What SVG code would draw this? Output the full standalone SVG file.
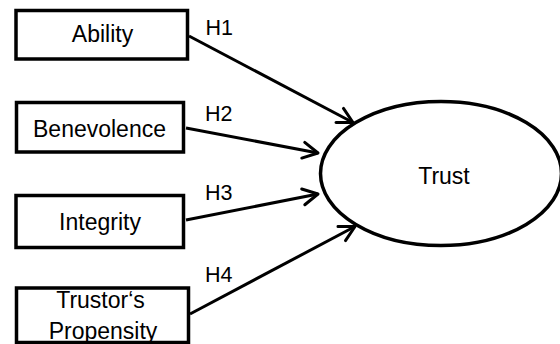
<svg xmlns="http://www.w3.org/2000/svg" width="560" height="344" viewBox="0 0 560 344">
<style>
.box{fill:#fff;stroke:#000;stroke-width:3.5}
.lbl{font-family:"Liberation Sans",Arial,sans-serif;font-size:23px;fill:#000;text-anchor:middle}
.h{font-family:"Liberation Sans",Arial,sans-serif;font-size:21.5px;fill:#000}
.conn{fill:none;stroke:#000;stroke-width:3;marker-end:url(#arr)}
</style>
<defs>
<marker id="arr" markerUnits="userSpaceOnUse" markerWidth="30" markerHeight="30" viewBox="-20 -15 25 30" refX="0" refY="0" orient="auto">
<path d="M-15,-8 L0,0 L-15,8" fill="none" stroke="#000" stroke-width="3" stroke-linecap="round" stroke-linejoin="round"/>
</marker>
</defs>
<rect x="0" y="0" width="560" height="344" fill="#fff"/>
<g id="connectors">
<line class="conn" x1="189" y1="36" x2="353" y2="122.5"/>
<line class="conn" x1="186" y1="128" x2="318" y2="153"/>
<line class="conn" x1="186" y1="220" x2="318" y2="194"/>
<line class="conn" x1="190" y1="314" x2="355" y2="226.5"/>
<text class="h" x="205.5" y="34.5">H1</text>
<text class="h" x="205" y="120.5">H2</text>
<text class="h" x="205" y="200">H3</text>
<text class="h" x="205" y="281.5">H4</text>
</g>
<g id="ability">
<rect class="box" x="16" y="10.5" width="171.5" height="48.5"/>
<text class="lbl" x="102.5" y="41.5">Ability</text>
</g>
<g id="benevolence">
<rect class="box" x="16.5" y="102.5" width="167" height="49.5"/>
<text class="lbl" x="99.5" y="137">Benevolence</text>
</g>
<g id="integrity">
<rect class="box" x="16" y="195.5" width="167.5" height="52"/>
<text class="lbl" x="100" y="230">Integrity</text>
</g>
<g id="propensity">
<rect class="box" x="16.5" y="288" width="172" height="54.5"/>
<text class="lbl" x="100.5" y="307.5">Trustor‘s</text>
<text class="lbl" x="103" y="338.5">Propensity</text>
</g>
<g id="trust">
<ellipse cx="441" cy="173.5" rx="120.5" ry="72" fill="#fff" stroke="#000" stroke-width="3.5"/>
<text class="lbl" x="444" y="184">Trust</text>
</g>
</svg>
